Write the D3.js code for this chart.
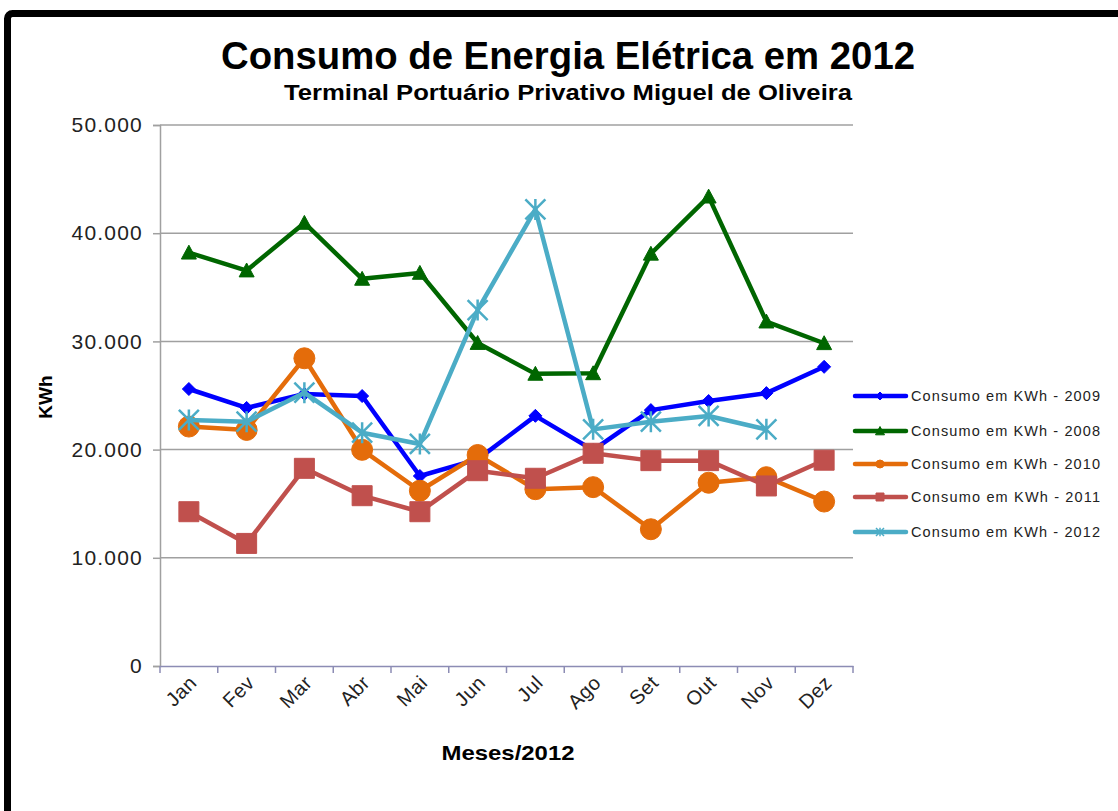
<!DOCTYPE html>
<html>
<head>
<meta charset="utf-8">
<script src="https://cdn.jsdelivr.net/npm/d3@7"></script>
<style>
  html, body { margin: 0; padding: 0; background: #fff; }
  svg { display: block; font-family: "Liberation Sans", Arial, sans-serif; }
</style>
</head>
<body>
<svg id="chart" width="1118" height="811"></svg>
<script>
const months = ["Jan","Fev","Mar","Abr","Mai","Jun","Jul","Ago","Set","Out","Nov","Dez"];
const yTicks = [0, 10000, 20000, 30000, 40000, 50000];

const s2009 = [25600, 23850, 25150, 24950, 17560, 19100, 23120, 19950, 23650, 24490, 25220, 27650];
const s2008 = [38200, 36550, 40950, 35780, 36330, 29850, 27000, 27050, 38100, 43380, 31830, 29830];
const s2010 = [22130, 21820, 28440, 19980, 16200, 19500, 16340, 16530, 12640, 16940, 17450, 15200];
const s2011 = [14260, 11330, 18270, 15740, 14260, 18050, 17350, 19660, 18980, 18980, 16640, 19020];
const s2012 = [22740, 22580, 25260, 21560, 20520, 32900, 42200, 21870, 22580, 23110, 21870];

const seriesNames = ["Consumo em KWh - 2009","Consumo em KWh - 2008","Consumo em KWh - 2010","Consumo em KWh - 2011","Consumo em KWh - 2012"];

const series = [
  {name: seriesNames[0], values: s2009, color: "#0000ff", marker: "diamond"},
  {name: seriesNames[1], values: s2008, color: "#006600", marker: "triangle"},
  {name: seriesNames[2], values: s2010, color: "#e46c0a", marker: "circle"},
  {name: seriesNames[3], values: s2011, color: "#c0504d", marker: "square"},
  {name: seriesNames[4], values: s2012, color: "#4bacc6", marker: "star"}
];

const svg = d3.select("#chart");
const pL = 160, pR = 853, pT = 125, pB = 666;

const x = d3.scalePoint().domain(months).range([pL, pR]).padding(0.5);
const xBand = d3.scaleBand().domain(months).range([pL, pR]);
const y = d3.scaleLinear().domain([0, 50000]).range([pB, pT]);

const loc = d3.formatLocale({decimal: ",", thousands: ".", grouping: [3], currency: ["", ""]});
const fmt = loc.format(",");

// frame
svg.append("rect").attr("x", 7.5).attr("y", 13.5).attr("width", 1300).attr("height", 1000)
  .attr("rx", 5).attr("fill", "none").attr("stroke", "#000").attr("stroke-width", 7);

// title
svg.append("text").attr("x", 568).attr("y", 69).attr("text-anchor", "middle")
  .attr("font-size", 38).attr("font-weight", "bold").attr("textLength", 694)
  .attr("lengthAdjust", "spacingAndGlyphs").text("Consumo de Energia Elétrica em 2012");
svg.append("text").attr("x", 568).attr("y", 100).attr("text-anchor", "middle")
  .attr("font-size", 22).attr("font-weight", "bold").attr("textLength", 568)
  .attr("lengthAdjust", "spacingAndGlyphs").text("Terminal Portuário Privativo Miguel de Oliveira");

// gridlines
svg.append("g").selectAll("line").data(yTicks.filter(d => d > 0)).join("line")
  .attr("x1", pL).attr("x2", pR)
  .attr("y1", d => y(d)).attr("y2", d => y(d))
  .attr("stroke", "#a0a0a0").attr("stroke-width", 1.5);

// y axis
const yAxis = svg.append("g").attr("transform", `translate(${pL},0)`)
  .call(d3.axisLeft(y).tickValues(yTicks).tickFormat(fmt).tickSize(7).tickPadding(10));
yAxis.select(".domain").attr("stroke", "#a0a0a0").attr("stroke-width", 1.5);
yAxis.selectAll(".tick line").attr("stroke", "#a0a0a0").attr("stroke-width", 1.5);
yAxis.selectAll(".tick text").attr("font-size", 21).attr("fill", "#222")
  .attr("letter-spacing", 1.2).attr("font-family", "Liberation Sans, Arial, sans-serif");

// x axis
const xAxis = svg.append("g").attr("transform", `translate(0,${pB})`)
  .call(d3.axisBottom(xBand).tickSize(0).tickFormat(""));
xAxis.select(".domain").attr("stroke", "#8c8cb4").attr("stroke-width", 1.5);
xAxis.selectAll(".tick").remove();
const boundaries = months.map(m => xBand(m)).concat([pR]);
svg.append("g").selectAll("line").data(boundaries).join("line")
  .attr("x1", d => d).attr("x2", d => d).attr("y1", pB).attr("y2", pB + 7)
  .attr("stroke", "#8c8cb4").attr("stroke-width", 1.5);
svg.append("g").selectAll("text").data(months).join("text")
  .attr("transform", d => `translate(${x(d) + 9},${pB + 18}) rotate(-45)`)
  .attr("text-anchor", "end").attr("font-size", 20).attr("fill", "#222")
  .attr("letter-spacing", 0.5).text(d => d);

// axis titles
svg.append("text").attr("transform", "translate(52,397) rotate(-90)")
  .attr("text-anchor", "middle").attr("font-size", 19).attr("font-weight", "bold")
  .text("KWh");
svg.append("text").attr("x", 508).attr("y", 760).attr("text-anchor", "middle")
  .attr("font-size", 21).attr("font-weight", "bold").attr("textLength", 133)
  .attr("lengthAdjust", "spacingAndGlyphs").text("Meses/2012");

// markers
function markerPath(type, s) {
  const h = s / 2;
  switch (type) {
    case "diamond": return `M0,${-h}L${h},0L0,${h}L${-h},0Z`;
    case "triangle": return `M0,${-h}L${h},${h * 0.85}L${-h},${h * 0.85}Z`;
    case "square": return `M${-h},${-h}H${h}V${h}H${-h}Z`;
    case "circle": return `M${h},0A${h},${h} 0 1,1 ${-h},0A${h},${h} 0 1,1 ${h},0Z`;
    case "star": return `M${-h},${-h}L${h},${h}M${h},${-h}L${-h},${h}M0,${-h * 1.05}V${h * 1.05}`;
  }
}
const markerSize = {diamond: 13, triangle: 15, square: 20, circle: 21, star: 20};

const line = d3.line().x((d, i) => x(months[i])).y(d => y(d));

series.forEach(s => {
  const g = svg.append("g");
  g.append("path").datum(s.values).attr("d", line)
    .attr("fill", "none").attr("stroke", s.color).attr("stroke-width", 4.5)
    .attr("stroke-linejoin", "round");
  g.selectAll("path.m").data(s.values).join("path").attr("class", "m")
    .attr("transform", (d, i) => `translate(${x(months[i])},${y(d)})`)
    .attr("d", markerPath(s.marker, markerSize[s.marker]))
    .attr("fill", s.marker === "star" ? "none" : s.color)
    .attr("stroke", s.color).attr("stroke-width", s.marker === "star" ? 2.5 : 1);
});

// legend
const legY = [396, 431, 464, 497, 532];
const leg = svg.append("g");
series.forEach((s, i) => {
  const g = leg.append("g").attr("transform", `translate(0,${legY[i]})`);
  g.append("line").attr("x1", 855).attr("x2", 906).attr("y1", 0).attr("y2", 0)
    .attr("stroke", s.color).attr("stroke-width", 4.5).attr("stroke-linecap", "round");
  const ms = {diamond: 8, triangle: 9, square: 8, circle: 8, star: 8}[s.marker];
  g.append("path").attr("transform", "translate(880,0)").attr("d", markerPath(s.marker, ms))
    .attr("fill", s.marker === "star" ? "none" : s.color).attr("stroke", s.color)
    .attr("stroke-width", s.marker === "star" ? 1.5 : 1);
  g.append("text").attr("x", 911).attr("y", 5).attr("font-size", 14.5).attr("fill", "#222")
    .attr("textLength", 189).attr("lengthAdjust", "spacing").text(s.name);
});
</script>
</body>
</html>
